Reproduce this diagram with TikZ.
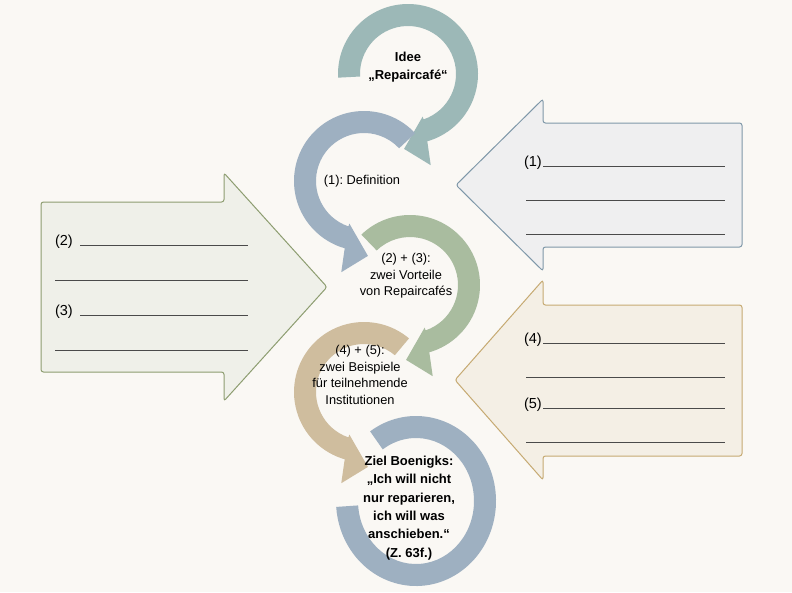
\documentclass[tikz,border=0pt]{standalone}
\usepackage{fontspec}
\setmainfont{Liberation Sans}
\usetikzlibrary{positioning}
\definecolor{paper}{HTML}{FAF8F4}
\definecolor{tealarc}{HTML}{9CB8B7}
\definecolor{bluearc}{HTML}{9EB0C1}
\definecolor{greenarc}{HTML}{A9BC9F}
\definecolor{tanarc}{HTML}{CFBD9E}
\definecolor{greenline}{HTML}{8D9D70}
\definecolor{greenfill}{HTML}{EFF0E9}
\definecolor{blueline}{HTML}{7F98A9}
\definecolor{bluefill}{HTML}{EFEFF0}
\definecolor{tanline}{HTML}{C6AA72}
\definecolor{tanfill}{HTML}{F4EFE5}
\definecolor{inkline}{HTML}{4A4A4A}
\tikzset{bigarrow/.style={line width=1pt, rounded corners=2.5pt},
         wline/.style={draw=inkline, line width=0.9pt},
         lbl/.style={anchor=base east, inner sep=1pt, font=\fontsize{14.5}{16}\selectfont},
         txt/.style={align=center, inner sep=0pt, font=\fontsize{12.8}{16.5}\selectfont},
         boldtxt/.style={align=center, inner sep=0pt, font=\bfseries\fontsize{13}{18.3}\selectfont}}

\begin{document}
\frenchspacing
\begin{tikzpicture}[x=1pt, y=1pt]
        \fill[paper] (0,0) rectangle (792,-592);
        \useasboundingbox (0,0) rectangle (792,-592);

        % big block arrows
        \filldraw[bigarrow, draw=greenline, fill=greenfill] (224,-202) -- (224,-173) -- (327,-287) -- (224,-401) -- (224,-372) -- (41,-372) -- (41,-202) -- cycle;
        \filldraw[bigarrow, draw=blueline, fill=bluefill] (543,-123) -- (543,-99) -- (456,-185) -- (543,-271) -- (543,-247) -- (742,-247) -- (742,-123) -- cycle;
        \filldraw[bigarrow, draw=tanline, fill=tanfill] (543,-305) -- (543,-280) -- (455,-380) -- (543,-480) -- (543,-456) -- (742,-456) -- (742,-305) -- cycle;

        % curved arrows
        \begin{scope}[shift={(408,-74)}]
            \fill[tealarc] (183:70pt) arc[start angle=183, end angle=-74, radius=70pt] -- (-76:94pt) -- (-93:75pt) -- (-71:45pt) -- (-71:48pt) arc[start angle=-71, end angle=183, radius=48pt] -- cycle;
        \end{scope}
        \begin{scope}[shift={(364,-181)}]
            \fill[bluearc] (43:70pt) arc[start angle=43, end angle=254, radius=70pt] -- (256:94pt) -- (273:75pt) -- (251:45pt) -- (251:48pt) arc[start angle=251, end angle=43, radius=48pt] -- cycle;
        \end{scope}
        \begin{scope}[shift={(410,-285)}]
            \fill[greenarc] (134:70pt) arc[start angle=134, end angle=-74, radius=70pt] -- (-76:94pt) -- (-93:75pt) -- (-71:45pt) -- (-71:48pt) arc[start angle=-71, end angle=134, radius=48pt] -- cycle;
        \end{scope}
        \begin{scope}[shift={(364,-392)}]
            \fill[tanarc] (50:70pt) arc[start angle=50, end angle=254, radius=70pt] -- (256:94pt) -- (273:75pt) -- (251:45pt) -- (251:48pt) arc[start angle=251, end angle=50, radius=48pt] -- cycle;
        \end{scope}
        \begin{scope}[shift={(416,-501)}]
            \fill[bluearc] (125:80pt and 85pt) arc[start angle=125, end angle=-176, x radius=80pt, y radius=85pt] -- (-176:58pt and 63pt) arc[start angle=-176, end angle=125, x radius=58pt, y radius=63pt] -- cycle;
        \end{scope}

        % texts in the circle
        \node[boldtxt] (idee) at (408,-67) {Idee\\„Repaircafé“};
        \node[txt] (defn) at (362,-181) {(1): Definition};
        \node[txt] (vort) at (406,-276) {(2) + (3):\\zwei Vorteile\\von Repaircafés};
        \node[txt] (beisp) at (360,-375) {(4) + (5):\\zwei Beispiele\\für teilnehmende\\Institutionen};
        \node[boldtxt] (ziel) at (409,-508) {Ziel Boenigks:\\„Ich will nicht\\nur reparieren,\\ich will was\\anschieben.“\\(Z. 63f.)};

        % writing lines, left arrow
        \coordinate (a1) at (80,-245);  \coordinate (b1) at (248,-245);
        \coordinate (a2) at (55,-280);  \coordinate (b2) at (248,-280);
        \coordinate (a3) at (80,-315);  \coordinate (b3) at (248,-315);
        \coordinate (a4) at (55,-350);  \coordinate (b4) at (248,-350);
        \draw[wline] (a1) -- (b1);
        \draw[wline] (a2) -- (b2);
        \draw[wline] (a3) -- (b3);
        \draw[wline] (a4) -- (b4);
        \node[lbl] (lab2) at ([xshift=-6pt]a1) {(2)};
        \node[lbl] (lab3) at ([xshift=-6pt]a3) {(3)};

        % writing lines, right arrows
        \coordinate (c1) at (543,-166); \coordinate (d1) at (725,-166);
        \coordinate (c2) at (526,-200); \coordinate (d2) at (725,-200);
        \coordinate (c3) at (526,-234); \coordinate (d3) at (725,-234);
        \draw[wline] (c1) -- (d1);
        \draw[wline] (c2) -- (d2);
        \draw[wline] (c3) -- (d3);
        \node[lbl] (lab1) at (c1) {(1)};

        \coordinate (e1) at (543,-343); \coordinate (f1) at (725,-343);
        \coordinate (e2) at (526,-377); \coordinate (f2) at (725,-377);
        \coordinate (e3) at (543,-408); \coordinate (f3) at (725,-408);
        \coordinate (e4) at (526,-442); \coordinate (f4) at (725,-442);
        \draw[wline] (e1) -- (f1);
        \draw[wline] (e2) -- (f2);
        \draw[wline] (e3) -- (f3);
        \draw[wline] (e4) -- (f4);
        \node[lbl] (lab4) at (e1) {(4)};
        \node[lbl] (lab5) at (e3) {(5)};
\end{tikzpicture}
\end{document}
